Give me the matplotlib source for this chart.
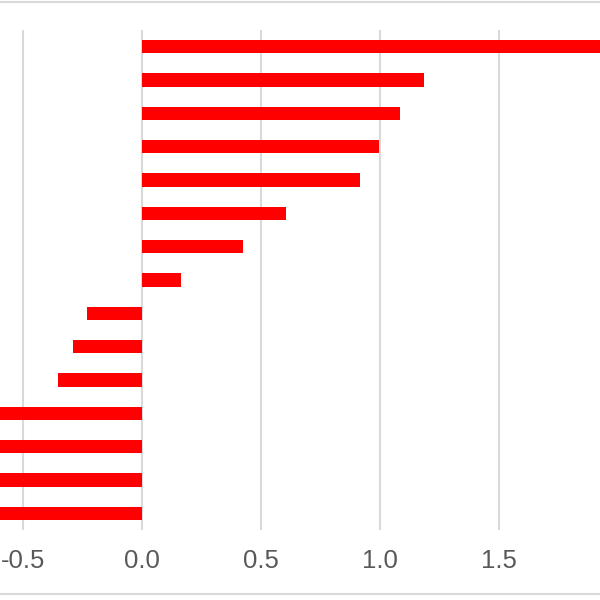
import matplotlib
matplotlib.use("Agg")
import matplotlib.pyplot as plt
from matplotlib.lines import Line2D

# bar values, top to bottom (the last four run past the left edge, the first past the right)
values = [2.10, 1.184, 1.083, 0.995, 0.913, 0.603, 0.425, 0.163,
          -0.232, -0.292, -0.354, -0.80, -0.85, -0.90, -0.95]
xticks = [-0.5, 0.0, 0.5, 1.0, 1.5]
xtick_labels = ["-0.5", "0.0", "0.5", "1.0", "1.5"]

plt.rcParams["font.family"] = ["Liberation Sans", "DejaVu Sans"]
plt.rcParams["axes.unicode_minus"] = False

fig = plt.figure(figsize=(6, 6), dpi=100)
ax = fig.add_axes([0, 70 / 600, 1, 500 / 600])

pos = list(range(len(values)))
ax.barh(pos, values, height=0.4, color="#ff0000", zorder=3)

ax.set_xlim(-0.598, 1.923)
ax.set_ylim(14.5, -0.5)
ax.set_xticks(xticks)
ax.set_xticklabels(xtick_labels)
ax.set_yticks([])
ax.tick_params(axis="x", length=0, pad=14, labelsize=18.5, labelcolor="#595959")
ax.grid(axis="x", color="#d9d9d9", linewidth=1.5, zorder=0)
for s in ax.spines.values():
    s.set_visible(False)

# chart frame lines at top and bottom
fig.add_artist(Line2D([0, 1], [1 - 1.5 / 600, 1 - 1.5 / 600], color="#d9d9d9", linewidth=1.5))
fig.add_artist(Line2D([0, 1], [1 - 593.5 / 600, 1 - 593.5 / 600], color="#d9d9d9", linewidth=1.5))

fig.savefig("out.png", dpi=100)
